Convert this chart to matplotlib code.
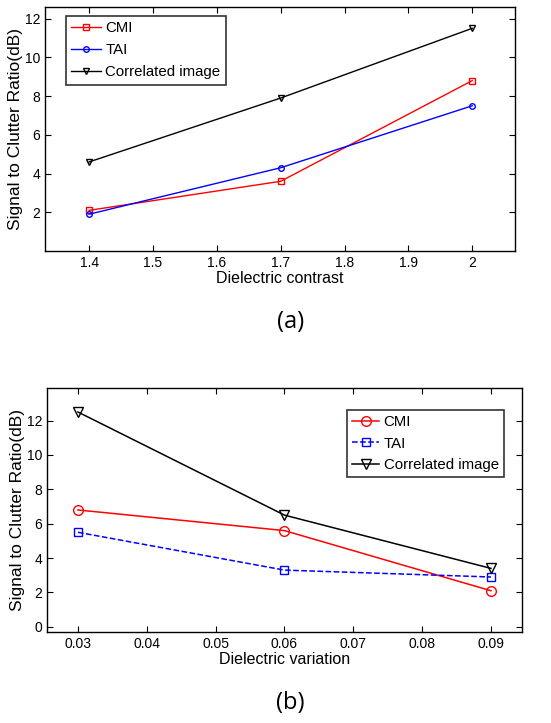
import numpy as np
import matplotlib.pyplot as plt

plt.rcParams['font.family'] = ['Liberation Sans', 'DejaVu Sans']

# (a) data
contrast = [1.4, 1.7, 2.0]
cmi_a = [2.1, 3.6, 8.8]
tai_a = [1.9, 4.3, 7.5]
corr_a = [4.6, 7.9, 11.5]

# (b) data
variation = [0.03, 0.06, 0.09]
cmi_b = [6.8, 5.6, 2.1]
tai_b = [5.5, 3.3, 2.9]
corr_b = [12.5, 6.5, 3.4]

fig = plt.figure(figsize=(5.51, 7.23), dpi=100)

def style(ax):
    ax.tick_params(direction='in', top=True, right=True, labelsize=10, length=4, width=0.8)
    for s in ax.spines.values():
        s.set_linewidth(1.0)

# top panel
ax1 = fig.add_axes([0.0817, 0.6528, 0.853, 0.3375])
ax1.plot(contrast, cmi_a, 'r-s', ms=4, mfc='none', lw=1, label='CMI')
ax1.plot(contrast, tai_a, 'b-o', ms=4, mfc='none', lw=1, label='TAI')
ax1.plot(contrast, corr_a, 'k-v', ms=4, mfc='none', lw=1, label='Correlated image')
ax1.set_xlim(1.331, 2.067)
ax1.set_ylim(0, 12.6)
ax1.set_xticks([1.4, 1.5, 1.6, 1.7, 1.8, 1.9, 2.0])
ax1.set_xticklabels(['1.4', '1.5', '1.6', '1.7', '1.8', '1.9', '2'])
ax1.set_yticks([2, 4, 6, 8, 10, 12])
ax1.set_xlabel('Dielectric contrast', fontsize=11.5, labelpad=1)
ax1.set_ylabel('Signal to Clutter Ratio(dB)', fontsize=12.5, labelpad=1)
style(ax1)
leg1 = ax1.legend(loc='upper left', bbox_to_anchor=(0.044, 0.965), fontsize=10.8,
                  fancybox=False, edgecolor='black', handlelength=2.0,
                  handletextpad=0.3, borderpad=0.35, labelspacing=0.55, borderaxespad=0)
leg1.get_frame().set_linewidth(1.2)
fig.text(0.527, 0.555, '(a)', fontsize=17, ha='center', va='center', family=['Open Sans', 'DejaVu Sans'])

# bottom panel
ax2 = fig.add_axes([0.0853, 0.1259, 0.862, 0.3375])
ax2.plot(variation, cmi_b, 'r-o', ms=7, mfc='none', lw=1.1, label='CMI')
ax2.plot(variation, tai_b, 'b--s', ms=6, mfc='none', lw=1.1, label='TAI')
ax2.plot(variation, corr_b, 'k-v', ms=7, mfc='none', lw=1.1, label='Correlated image')
ax2.set_xlim(0.0255, 0.0945)
ax2.set_ylim(-0.3, 13.9)
ax2.set_xticks([0.03, 0.04, 0.05, 0.06, 0.07, 0.08, 0.09])
ax2.set_xticklabels(['0.03', '0.04', '0.05', '0.06', '0.07', '0.08', '0.09'])
ax2.set_yticks([0, 2, 4, 6, 8, 10, 12])
ax2.set_xlabel('Dielectric variation', fontsize=11.5, labelpad=1)
ax2.set_ylabel('Signal to Clutter Ratio(dB)', fontsize=12.5, labelpad=1)
style(ax2)
leg2 = ax2.legend(loc='upper right', bbox_to_anchor=(0.962, 0.91), fontsize=10.8,
                  fancybox=False, edgecolor='black', handlelength=1.8,
                  handletextpad=0.3, borderpad=0.35, labelspacing=0.5, borderaxespad=0)
leg2.get_frame().set_linewidth(1.2)
fig.text(0.527, 0.028, '(b)', fontsize=17, ha='center', va='center', family=['Open Sans', 'DejaVu Sans'])

fig.savefig('out.png', dpi=100)
